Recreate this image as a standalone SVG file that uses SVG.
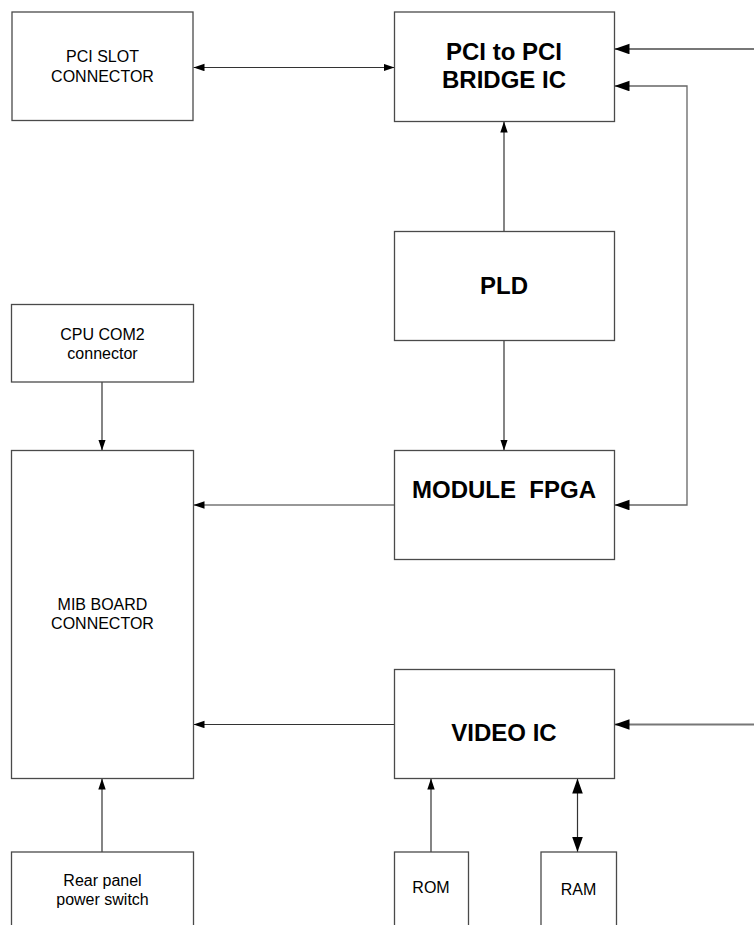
<svg xmlns="http://www.w3.org/2000/svg" width="754" height="925" viewBox="0 0 754 925">
<style>
.box{fill:#fff;stroke:#4a4a4a;stroke-width:1.3}
.t{font-family:"Liberation Sans",Arial,sans-serif;font-size:16px;fill:#000;text-anchor:middle}
.b{font-family:"Liberation Sans",Arial,sans-serif;font-size:24px;font-weight:bold;fill:#000;text-anchor:middle}
.c{fill:none;stroke:#333;stroke-width:1.2}
.g{fill:none;stroke:#777;stroke-width:2}
.g1{fill:none;stroke:#666;stroke-width:1.3}
</style>
<defs>
<marker id="a" markerUnits="userSpaceOnUse" markerWidth="12" markerHeight="8" refX="11" refY="3.7" orient="auto-start-reverse"><path d="M0,0 L11,3.7 L0,7.4 z" fill="#000"/></marker>
<marker id="A" markerUnits="userSpaceOnUse" markerWidth="16" markerHeight="12" refX="15" refY="5.3" orient="auto-start-reverse"><path d="M0,0 L15,5.3 L0,10.6 z" fill="#000"/></marker>
</defs>
<g id="connectors">
<line class="c" x1="193.5" y1="67.5" x2="394.5" y2="67.5" marker-start="url(#a)" marker-end="url(#a)"/>
<line class="g" x1="754" y1="49" x2="614.5" y2="49" marker-end="url(#A)"/>
<polyline class="g1" points="614.5,86 687,86 687,505 614.5,505" marker-start="url(#A)" marker-end="url(#A)"/>
<line class="c" x1="504" y1="231.5" x2="504" y2="121.5" marker-end="url(#a)"/>
<line class="c" x1="504" y1="340.5" x2="504" y2="450.5" marker-end="url(#a)"/>
<line class="c" x1="102" y1="382" x2="102" y2="450.5" marker-end="url(#a)"/>
<line class="c" x1="394.5" y1="505" x2="193.5" y2="505" marker-end="url(#a)"/>
<line class="c" x1="394.5" y1="724.5" x2="193.5" y2="724.5" marker-end="url(#a)"/>
<line class="g" x1="754" y1="724.5" x2="614.5" y2="724.5" marker-end="url(#A)"/>
<line class="c" x1="102" y1="852" x2="102" y2="778.5" marker-end="url(#a)"/>
<line class="c" x1="431" y1="852" x2="431" y2="778.5" marker-end="url(#a)"/>
<line class="c" x1="577.5" y1="778.5" x2="577.5" y2="852" marker-start="url(#A)" marker-end="url(#A)"/>
</g>
<g id="pci-slot"><rect class="box" x="12" y="12" width="181" height="108.5"/><text class="t" x="102.5" y="62">PCI SLOT</text><text class="t" x="102.5" y="81.5">CONNECTOR</text></g>
<g id="bridge"><rect class="box" x="394.5" y="12" width="220" height="109.5"/><text class="b" x="504" y="60">PCI to PCI</text><text class="b" x="504" y="88">BRIDGE IC</text></g>
<g id="pld"><rect class="box" x="394.5" y="231.5" width="220" height="109"/><text class="b" x="504" y="294">PLD</text></g>
<g id="cpu-com2"><rect class="box" x="11.5" y="304.5" width="182" height="77.5"/><text class="t" x="102.5" y="340">CPU COM2</text><text class="t" x="102.5" y="358.5">connector</text></g>
<g id="mib"><rect class="box" x="11.5" y="450.5" width="182" height="328"/><text class="t" x="102.5" y="610">MIB BOARD</text><text class="t" x="102.5" y="628.5">CONNECTOR</text></g>
<g id="fpga"><rect class="box" x="394.5" y="450.5" width="220" height="109"/><text class="b" x="504" y="497.5" xml:space="preserve">MODULE  FPGA</text></g>
<g id="video"><rect class="box" x="394.5" y="669.5" width="220" height="109"/><text class="b" x="504" y="741">VIDEO IC</text></g>
<g id="rear"><rect class="box" x="11.5" y="852" width="182" height="100"/><text class="t" x="102.5" y="886">Rear panel</text><text class="t" x="102.5" y="905">power switch</text></g>
<g id="rom"><rect class="box" x="394.5" y="852" width="74" height="100"/><text class="t" x="431" y="893">ROM</text></g>
<g id="ram"><rect class="box" x="541" y="852" width="75.5" height="100"/><text class="t" x="578.5" y="895">RAM</text></g>
</svg>
